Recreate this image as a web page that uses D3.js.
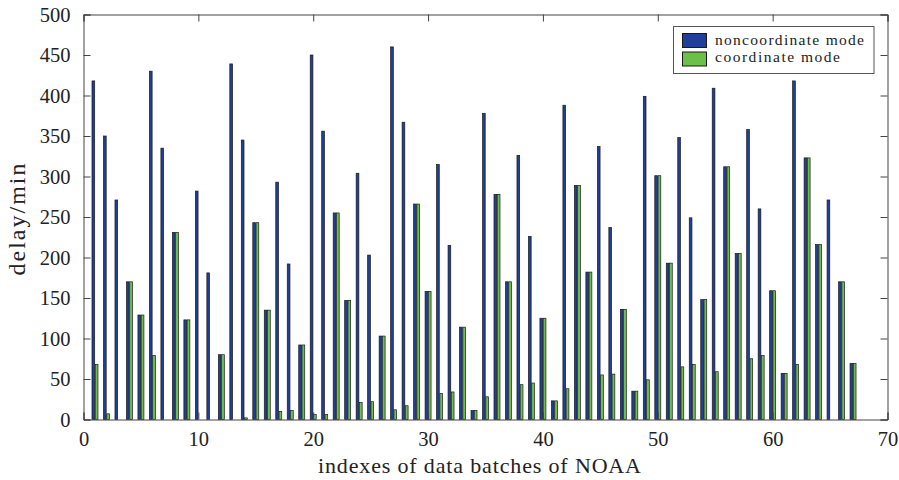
<!DOCTYPE html>
<html>
<head>
<meta charset="utf-8">
<script src="https://cdn.jsdelivr.net/npm/d3@7"></script>
<style>
html,body{margin:0;padding:0;background:#fff;}
svg{display:block;}
text{font-family:"Liberation Serif","Times New Roman",serif;fill:#222;}
</style>
</head>
<body>
<svg id="chart" width="899" height="480"></svg>
<script>
const batchIndex = d3.range(1, 68);
const noncoordinate = [418,350,271,170,129,430,335,231,123,282,181,80,439,345,243,135,293,192,92,450,356,255,147,304,203,103,460,367,266,158,315,215,114,11,378,278,170,326,226,125,23,388,289,182,337,237,136,35,399,301,193,348,249,148,409,312,205,358,260,159,57,418,323,216,271,170,69];
const coordinate = [68,7,0,170,129,79,0,231,123,0,0,80,0,2,243,135,10,11,92,6,6,255,147,21,22,103,12,17,266,158,32,34,114,11,28,278,170,43,45,125,23,38,289,182,55,56,136,35,49,301,193,65,68,148,59,312,205,75,79,159,57,68,323,216,0,170,69];
const seriesNames = ["noncoordinate mode", "coordinate mode"];
const seriesColors = ["#1f3f9b", "#6cc04a"];
const xTicks = [0,10,20,30,40,50,60,70];
const yTicks = [0,50,100,150,200,250,300,350,400,450,500];
const xLabel = "indexes of data batches of NOAA";
const yLabel = "delay/min";

(function(){
const svg = d3.select("#chart");
const pl = 83.5, pr = 887.5, pt = 14.5, pb = 419.5;
const x = d3.scaleLinear().domain([0,70]).range([pl,pr]);
const y = d3.scaleLinear().domain([0,500]).range([pb,pt]);

svg.append("rect").attr("x",pl).attr("y",pt).attr("width",pr-pl).attr("height",pb-pt).attr("fill","#fff");

const series = [noncoordinate, coordinate];
const offsets = [-0.143, 0.143];
const bw = x(0.235) - x(0);
series.forEach((vals, s) => {
  svg.append("g").selectAll("rect").data(batchIndex).join("rect")
    .attr("x", (d,i) => x(d + offsets[s]) - bw/2)
    .attr("y", (d,i) => y(vals[i]))
    .attr("width", bw)
    .attr("height", (d,i) => y(0) - y(vals[i]))
    .attr("fill", seriesColors[s])
    .attr("stroke", "#1a1a1a")
    .attr("stroke-width", 0.7);
});

const axisColor = "#444";
const fontFam = "'Liberation Serif', serif";
const gx = svg.append("g").attr("transform",`translate(0,${pb})`)
  .call(d3.axisBottom(x).tickValues(xTicks).tickSize(-7).tickPadding(12).tickFormat(d3.format("d")));
const gxTop = svg.append("g").attr("transform",`translate(0,${pt})`)
  .call(d3.axisTop(x).tickValues(xTicks).tickSize(-7).tickFormat(""));
const gy = svg.append("g").attr("transform",`translate(${pl},0)`)
  .call(d3.axisLeft(y).tickValues(yTicks).tickSize(-7).tickPadding(13).tickFormat(d3.format("d")));
const gyR = svg.append("g").attr("transform",`translate(${pr},0)`)
  .call(d3.axisRight(y).tickValues(yTicks).tickSize(-7).tickFormat(""));
[gx,gxTop,gy,gyR].forEach(g => {
  g.attr("font-family", fontFam);
  g.select(".domain").attr("stroke",axisColor).attr("stroke-width",1);
  g.selectAll(".tick line").attr("stroke",axisColor).attr("stroke-width",1);
  g.selectAll(".tick text").attr("font-size",20.5).attr("fill","#222");
});

svg.append("text").attr("x",(pl+pr)/2 - 6).attr("y",473).attr("text-anchor","middle")
  .attr("font-size",22).attr("textLength",323).attr("lengthAdjust","spacing").text(xLabel);
svg.append("text").attr("transform",`translate(25,${(163+276)/2}) rotate(-90)`).attr("text-anchor","middle")
  .attr("font-size",24).attr("textLength",112).attr("lengthAdjust","spacing").text(yLabel);

const lg = svg.append("g");
lg.append("rect").attr("x",673.5).attr("y",26.5).attr("width",200.5).attr("height",47).attr("fill","#fff").attr("stroke","#555").attr("stroke-width",1);
seriesNames.forEach((n,i) => {
  lg.append("rect").attr("x",682.5).attr("y",33.5 + i*18.5).attr("width",24).attr("height",14)
    .attr("fill",seriesColors[i]).attr("stroke","#1a1a1a").attr("stroke-width",1);
  lg.append("text").attr("x",715).attr("y",45 + i*17).attr("font-size",15.5)
    .attr("textLength", i===0 ? 149 : 125).attr("lengthAdjust","spacing").text(n);
});
})();
</script>
</body>
</html>
